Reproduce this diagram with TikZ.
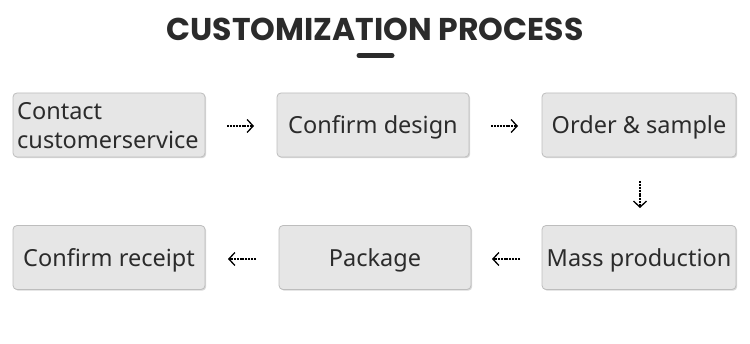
\documentclass[tikz,border=0pt]{standalone}
\usepackage{fontspec}
\setmainfont{Noto Sans}
\newfontfamily\titlefont{Poppins}
\usetikzlibrary{arrows.meta,shadows}
\definecolor{boxfill}{HTML}{E6E6E6}
\definecolor{boxline}{HTML}{BDBDBD}
\definecolor{ink}{HTML}{2B2B2B}
\begin{document}
\begin{tikzpicture}[x=1pt,y=-1pt,
  procbox/.style={draw=boxline, line width=0.8pt, fill=boxfill, rounded corners=4pt,
    minimum width=192pt, minimum height=64pt, inner sep=2pt,
    text=ink, font=\fontsize{23.5}{29}\selectfont,
    text height=20pt, text depth=2pt,
    drop shadow={shadow xshift=1.2pt, shadow yshift=-1.2pt, fill=black!25, opacity=0.6}},
  flow/.style={draw=black, line width=1.3pt, dash pattern=on 2pt off 0.9pt,
    -{Straight Barb[length=6pt,width=13pt,line width=1.3pt]}}]
\useasboundingbox (0,0) rectangle (750,344);
\node[text=ink, font=\titlefont\bfseries\fontsize{31.5}{34}\selectfont] (title) at (375,29) {CUSTOMIZATION PROCESS};
\draw[line width=5pt, line cap=round, ink] (359,55.5) -- (392,55.5);
\node[procbox, minimum width=192pt, text width=0pt, text height=, text depth=] (b1) at (109,125) {};
\node[anchor=west, align=left, text=ink, inner sep=0pt, font=\fontsize{23.5}{29}\selectfont] (b1t) at (17,126) {Contact\\customerservice};
\node[procbox] (b2) at (373,125) {Confirm design};
\node[procbox, minimum width=194pt] (b3) at (639,125) {Order \& sample};
\node[procbox, minimum width=194pt] (b4) at (639,257.5) {Mass production};
\node[procbox] (b5) at (375,257.5) {Package};
\node[procbox] (b6) at (109,257.5) {Confirm receipt};
\coordinate (a1s) at (227,126); \coordinate (a1e) at (254,126);
\coordinate (a2s) at (491,126); \coordinate (a2e) at (518,126);
\coordinate (a3s) at (640,181); \coordinate (a3e) at (640,208);
\coordinate (a4s) at (520,259); \coordinate (a4e) at (492,259);
\coordinate (a5s) at (256,259); \coordinate (a5e) at (228,259);
\draw[flow] (a1s) -- (a1e);
\draw[flow] (a2s) -- (a2e);
\draw[flow] (a3s) -- (a3e);
\draw[flow] (a4s) -- (a4e);
\draw[flow] (a5s) -- (a5e);
\end{tikzpicture}
\end{document}
